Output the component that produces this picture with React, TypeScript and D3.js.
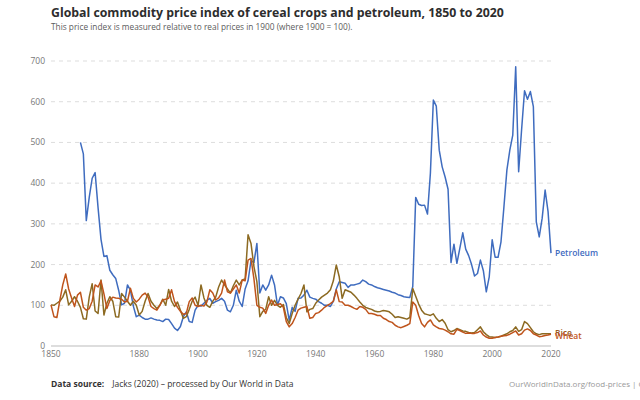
import * as d3 from 'd3';

const startYear = 1850;
const petroleumStart = 1860;

// Petroleum, 1860–2020
const petroleum = [
  500, 472, 308, 365, 412, 426, 340, 262, 220, 222,
  186, 175, 166, 137, 101, 105, 150, 137, 98, 72,
  76, 70, 66, 66, 69, 66, 64, 63, 60, 66,
  65, 55, 44, 38, 48, 72, 84, 60, 58, 88,
  100, 98, 105, 112, 117, 105, 109, 112, 117, 110,
  88, 84, 100, 137, 110, 97, 140, 160, 210, 205,
  252, 130, 150, 137, 150, 174, 150, 100, 121, 118,
  104, 63, 95, 85, 117, 118, 125, 137, 120, 117,
  115, 109, 105, 100, 100, 97, 110, 140, 158, 156,
  154, 144, 150, 150, 152, 154, 162, 158, 152, 150,
  146, 143, 141, 139, 137, 135, 132, 130, 126, 124,
  121, 120, 119, 146, 365, 348, 345, 346, 324, 425,
  604, 589, 481, 440, 415, 385, 205, 250, 203, 240,
  278, 238, 222, 200, 172, 178, 211, 185, 133, 170,
  261, 218, 218, 256, 342, 432, 481, 518, 686, 428,
  531, 627, 606, 625, 588, 305, 268, 314, 383, 330,
  228,
];

// Wheat, 1850–2020
const wheat = [
  101, 72, 70, 112, 150, 177, 140, 118, 97, 125,
  132, 95, 88, 92, 110, 150, 145, 160, 128, 92,
  112, 120, 118, 117, 115, 108, 110, 142, 117, 108,
  115, 125, 130, 120, 97, 92, 88, 100, 113, 115,
  117, 138, 109, 95, 85, 78, 80, 109, 118, 100,
  97, 100, 98, 108, 138, 130, 113, 118, 130, 162,
  133, 130, 140, 150, 130, 162, 160, 211, 215, 165,
  100, 95, 93, 80, 100, 113, 100, 102, 104, 95,
  60, 47, 55, 70, 88, 93, 95, 97, 68, 70,
  80, 82, 88, 95, 100, 104, 110, 138, 109, 108,
  100, 100, 97, 93, 90, 97, 95, 90, 80, 80,
  78, 75, 75, 68, 65, 60, 58, 51, 47, 45,
  48, 51, 55, 108, 100, 75, 55, 47, 58, 64,
  52, 47, 43, 42, 39, 35, 30, 29, 41, 38,
  34, 31, 32, 31, 31, 33, 37, 27, 22, 19,
  19, 21, 22, 24, 25, 26, 29, 33, 37, 27,
  30, 39, 42, 38, 30, 27, 23, 24, 26, 27,
  29,
];

// Rice, 1850–2020
const rice = [
  101, 100, 105, 110, 120, 138, 101, 110, 121, 110,
  95, 67, 66, 120, 153, 86, 80, 162, 76, 105,
  121, 110, 72, 71, 129, 120, 110, 100, 110, 100,
  76, 85, 110, 129, 110, 100, 92, 100, 115, 100,
  139, 110, 97, 108, 88, 68, 72, 90, 110, 120,
  100, 150, 118, 100, 95, 110, 120, 145, 162, 150,
  140, 130, 148, 162, 150, 162, 165, 273, 252, 195,
  158, 72, 85, 90, 121, 100, 112, 100, 95, 102,
  70, 55, 80, 100, 115, 129, 150, 84, 90, 92,
  105, 113, 120, 125, 130, 138, 160, 199, 170, 117,
  138, 135, 132, 125, 117, 108, 100, 95, 92, 90,
  86, 84, 85, 87, 86, 84, 78, 70, 72, 70,
  68, 66, 70, 141, 122, 103, 88, 79, 77, 75,
  79, 68, 60, 65, 56, 40, 35, 38, 43, 40,
  37, 36, 33, 32, 33, 40, 47, 35, 28, 23,
  22, 21, 22, 24, 27, 30, 35, 38, 47, 36,
  40, 60, 55, 45, 35, 30, 28, 30, 30, 30,
  30,
];

const yTicks = [0, 100, 200, 300, 400, 500, 600, 700];
const xTicks = [1850, 1880, 1900, 1920, 1940, 1960, 1980, 2000, 2020];

const series = [
  { name: 'Petroleum', start: petroleumStart, values: petroleum, color: '#3f6cbf', labelDy: 0 },
  { name: 'Rice', start: startYear, values: rice, color: '#9a5a1e', labelDy: -1 },
  { name: 'Wheat', start: startYear, values: wheat, color: '#bf541c', labelDy: 2 },
];

const lineColors: Record<string, string> = {
  Petroleum: '#3f6cbf',
  Rice: '#8c6a22',
  Wheat: '#bf541c',
};

const font = '"Open Sans", "Noto Sans", sans-serif';

export default function App() {
  const width = 640;
  const height = 400;
  const margin = { top: 61, right: 89, bottom: 54, left: 51 };

  const x = d3.scaleLinear().domain([1850, 2020]).range([margin.left, width - margin.right]);
  const y = d3.scaleLinear().domain([0, 700]).range([height - margin.bottom, margin.top]);

  return (
    <svg
      width={width}
      height={height}
      style={{ position: 'absolute', left: 0, top: 0, background: '#fff', fontFamily: font }}
    >
      <text x={51} y={17} fontSize={12.3} fontWeight={700} fill="#2d2d2d">
        Global commodity price index of cereal crops and petroleum, 1850 to 2020
      </text>
      <text x={51} y={30} fontSize={8.3} fill="#5b5b5b">
        This price index is measured relative to real prices in 1900 (where 1900 = 100).
      </text>

      {yTicks.map((t) => (
        <g key={t}>
          {t > 0 && (
            <line
              x1={x(1850)}
              x2={x(2020)}
              y1={y(t)}
              y2={y(t)}
              stroke="#dddddd"
              strokeDasharray="4,4"
            />
          )}
          <text x={45} y={y(t)} dy="0.35em" textAnchor="end" fontSize={8.5} fill="#777">
            {t}
          </text>
        </g>
      ))}
      <line x1={x(1850)} x2={x(2020)} y1={y(0)} y2={y(0)} stroke="#bbb" />
      {xTicks.map((t) => (
        <text key={t} x={x(t)} y={y(0) + 11} textAnchor="middle" fontSize={8.5} fill="#777">
          {t}
        </text>
      ))}

      {series.map((s) => (
        <path
          key={s.name}
          d={
            d3
              .line<number>()
              .x((_, i) => x(s.start + i))
              .y((d) => y(d))(s.values) ?? ''
          }
          fill="none"
          stroke={lineColors[s.name]}
          strokeWidth={1.5}
          strokeLinejoin="round"
        />
      ))}

      {series.map((s) => (
        <text
          key={s.name}
          x={x(2020) + 4}
          y={y(s.values[s.values.length - 1]) + s.labelDy}
          dy="0.35em"
          fontSize={8.5}
          fontWeight={600}
          fill={s.color}
        >
          {s.name}
        </text>
      ))}

      <text x={51} y={387} fontSize={8.5} fill="#333">
        <tspan fontWeight={700}>Data source:</tspan>
        <tspan dx={8}>Jacks (2020) – processed by Our World in Data</tspan>
      </text>
      <text x={509} y={387} fontSize={8} fill="#999">
        OurWorldInData.org/food-prices | CC BY
      </text>
    </svg>
  );
}
